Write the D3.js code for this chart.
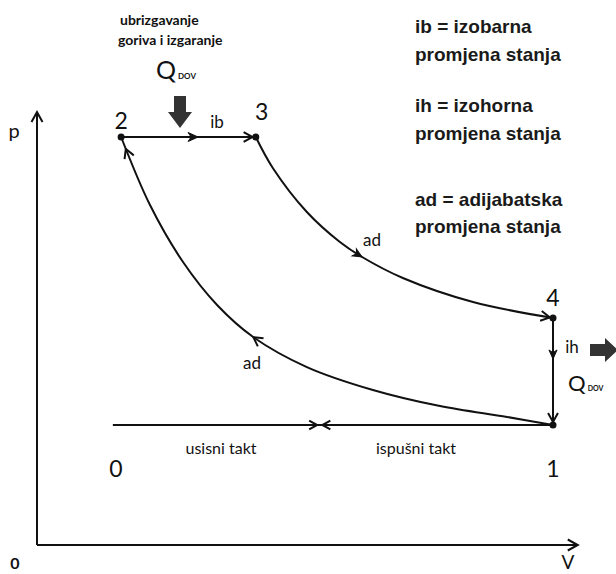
<!DOCTYPE html>
<html><head><meta charset="utf-8">
<script src="https://cdn.jsdelivr.net/npm/d3@7"></script>
<style>
html,body{margin:0;padding:0;background:#fff;}
svg{display:block;}
.calib{font-family:Lato,"Open Sans",sans-serif;fill:#111;}
.legend{font-family:"Liberation Sans",Arial,sans-serif;font-weight:bold;fill:#1a1a1a;}
</style>
</head><body>
<script>
// ---- data (V relative to V1, p relative to p1) ----
const stateIds = ["1", "2", "3", "4"];
const stateV   = [1.0, 0.163, 0.424, 1.0];
const stateP   = [1.0, 3.40, 3.40, 1.892];

// adiabatic expansion 3 -> 4
const expV = [0.424, 0.457, 0.523, 0.587, 0.630, 0.709, 0.845, 1.0];
const expP = [3.40, 3.142, 2.775, 2.525, 2.40, 2.225, 2.025, 1.892];

// adiabatic compression 1 -> 2
const compV = [1.0, 0.911, 0.781, 0.651, 0.523, 0.419, 0.349, 0.283, 0.219, 0.163];
const compP = [1.0, 1.067, 1.158, 1.292, 1.483, 1.733, 2.0, 2.358, 2.833, 3.40];

// intake / exhaust line 0 - 1
const strokeV = [0.147, 1.0];
const strokeP = [1.0, 1.0];

const legendLines = ["ib = izobarna", "promjena stanja", "ih = izohorna", "promjena stanja", "ad = adijabatska", "promjena stanja"];

// ---- drawing ----
const W = 616, H = 574;
const svg = d3.select("body").append("svg").attr("width", W).attr("height", H);

const x = d3.scaleLinear().domain([0, 1]).range([37, 553]);
const y = d3.scaleLinear().domain([0, 1]).range([545, 425]);

const ink = "#111";
const line = d3.line().x(d => x(d[0])).y(d => y(d[1]));
const curve = d3.line().x(d => x(d[0])).y(d => y(d[1])).curve(d3.curveCatmullRom.alpha(0.5));

// axes
const xAxisEnd = 1.048, yAxisEnd = 3.608;
svg.append("path").attr("d", line([[0, 0], [xAxisEnd, 0]])).attr("stroke", ink).attr("stroke-width", 2).attr("fill", "none");
svg.append("path").attr("d", line([[0, 0], [0, yAxisEnd]])).attr("stroke", ink).attr("stroke-width", 2).attr("fill", "none");

function chevron(px, py, angle, size = 8, open = true) {
  const g = svg.append("g").attr("transform", `translate(${px},${py}) rotate(${angle})`);
  if (open) {
    g.append("path").attr("d", `M${-size},${-size * 0.55} L0,0 L${-size},${size * 0.55}`)
      .attr("fill", "none").attr("stroke", ink).attr("stroke-width", 2);
  } else {
    g.append("path").attr("d", `M0,0 L${-size},${-size * 0.45} L${-size * 0.7},0 L${-size},${size * 0.45} Z`)
      .attr("fill", ink).attr("stroke", ink).attr("stroke-width", 1);
  }
}
// axis arrowheads
chevron(x(xAxisEnd), y(0), 0, 10);
chevron(x(0), y(yAxisEnd), -90, 10);

function drawPath(d, w = 2) {
  return svg.append("path").attr("d", d).attr("stroke", ink).attr("stroke-width", w).attr("fill", "none");
}
const pts = (vs, ps) => vs.map((v, i) => [v, ps[i]]);

const p23 = drawPath(line([[stateV[1], stateP[1]], [stateV[2], stateP[2]]]));
const p34 = drawPath(curve(pts(expV, expP)));
const p41 = drawPath(line([[stateV[3], stateP[3]], [stateV[0], stateP[0]]]));
const p12 = drawPath(curve(pts(compV, compP)));
drawPath(line(pts(strokeV, strokeP)));

// arrowhead on a path where its x (or y) coordinate reaches a value
function arrowAt(pathSel, coord, value, size = 9, open = false) {
  const node = pathSel.node();
  const L = node.getTotalLength();
  let best = 0, bestD = Infinity;
  for (let l = 0; l <= L; l += 0.5) {
    const p = node.getPointAtLength(l);
    const dd = Math.abs(p[coord] - value);
    if (dd < bestD) { bestD = dd; best = l; }
  }
  const a = node.getPointAtLength(best);
  const b = node.getPointAtLength(Math.max(0, best - 2));
  const ang = Math.atan2(a.y - b.y, a.x - b.x) * 180 / Math.PI;
  chevron(a.x, a.y, ang, size, open);
}
arrowAt(p23, "x", x(0.312), 10, false);
arrowAt(p23, "x", x(0.418), 9, true);
arrowAt(p34, "x", x(0.630), 9, false);
arrowAt(p34, "x", x(0.994), 9, true);
arrowAt(p41, "y", y(1.55), 9, false);
arrowAt(p41, "y", y(1.025), 9, true);
arrowAt(p12, "x", x(0.419), 9, true);
arrowAt(p12, "x", x(0.172), 9, true);
// baseline arrows meeting in the middle
chevron(x(0.543), y(1), 0, 8);
chevron(x(0.553), y(1), 180, 8);

// state points
svg.selectAll("circle.st").data(stateIds).join("circle")
  .attr("cx", (d, i) => x(stateV[i])).attr("cy", (d, i) => y(stateP[i])).attr("r", 3.5).attr("fill", ink);

const lab = (t, px, py, size, extra = {}) => {
  const s = svg.append("text").attr("class", "calib").attr("x", px).attr("y", py)
    .attr("font-size", size).attr("text-anchor", extra.anchor || "middle").text(t);
  if (extra.weight) s.attr("font-weight", extra.weight);
  return s;
};
lab("2", x(stateV[1]), 129, 23);
lab("3", x(stateV[2]) + 6, 120, 23);
lab("4", x(stateV[3]), 306, 23);
lab("1", x(stateV[0]), 477, 23);
lab("0", x(strokeV[0]) + 3, 477, 23);
lab("ib", 217, 128, 17);
lab("ad", 372, 246, 17);
lab("ad", 252, 369, 17);
lab("ih", 572, 353, 17);
lab("usisni takt", 221, 454, 16);
lab("ispušni takt", 416, 454, 16);
lab("p", 14, 138, 20);
lab("V", 568, 569, 19);
lab("0", 15, 569, 16, {weight: "bold"});

lab("ubrizgavanje", 120, 25, 14, {weight: "bold", anchor: "start"});
lab("goriva i izgaranje", 118, 45, 14, {weight: "bold", anchor: "start"});
function qLabel(px, py, size) {
  const t = svg.append("text").attr("class", "calib").attr("x", px).attr("y", py).attr("font-size", size);
  t.append("tspan").text("Q");
  t.append("tspan").attr("font-size", size * 0.32).attr("font-weight", "bold").attr("dx", 2).text("DOV");
}
qLabel(156, 79, 25);
qLabel(568, 391, 22);

// block arrows (heat in / heat out)
const grey = "#333";
svg.append("path").attr("fill", grey)
  .attr("d", `M174,96 L186,96 L186,112 L192,112 L180,128 L168,112 L174,112 Z`);
svg.append("path").attr("fill", grey)
  .attr("d", `M590,344 L605,344 L605,338 L618,350 L605,362 L605,356 L590,356 Z`);

// legend
const ly = [33, 61, 112, 140, 206, 233];
svg.selectAll("text.lg").data(legendLines).join("text")
  .attr("class", "legend").attr("x", 415).attr("y", (d, i) => ly[i]).attr("font-size", 19).text(d => d);
</script>
</body></html>
